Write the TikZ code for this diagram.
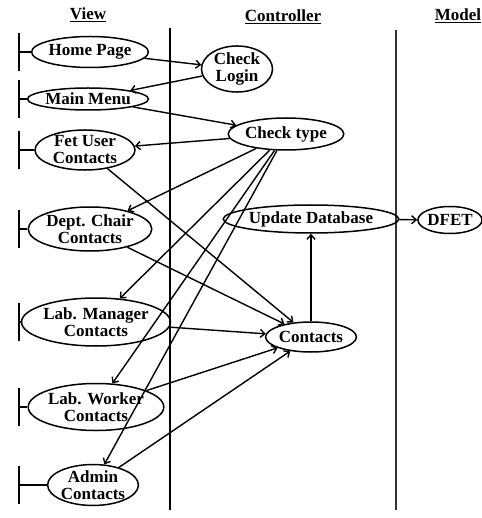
\documentclass[tikz,border=0pt]{standalone}
\usepackage{fontspec}
\setmainfont{Liberation Serif}
\usetikzlibrary{shapes.geometric,arrows.meta}
\begin{document}
\begin{tikzpicture}[x=1pt,y=-1pt,
  uc/.style={ellipse,draw,line width=1.5pt,inner sep=0pt,align=center,
    font=\fontsize{17}{17}\selectfont\bfseries},
  conn/.style={line width=1.4pt,-{Straight Barb[length=4.5pt,width=8pt]}},
  plain/.style={line width=1.4pt},
  bar/.style={line width=1.6pt},
  hdr/.style={font=\fontsize{17}{18}\selectfont\bfseries,inner sep=0pt}]
\useasboundingbox (0,0) rectangle (481,518);
% headers
\node[hdr] (hv) at (88,15) {\underline{View}};
\node[hdr] (hc) at (283,17) {\underline{Controller}};
\node[hdr] (hm) at (458,16) {\underline{Model}};
% swimlane lines
\coordinate (c1t) at (170,28); \coordinate (c1b) at (170,510);
\coordinate (c2t) at (396,30); \coordinate (c2b) at (396,510);
\draw[plain] (c1t) -- (c1b);
\draw[plain,draw=black!80] (c2t) -- (c2b);
% view nodes
\node[uc,minimum width=96pt,minimum height=31pt] (home) at (90,52) {Home Page};
\node[uc,minimum width=100pt,minimum height=22pt] (menu) at (88,99) {Main Menu};
\node[uc,minimum width=100pt,minimum height=38pt] (fet) at (85,150) {Fet User\\Contacts};
\node[uc,minimum width=110pt,minimum height=44pt] (dept) at (90,229) {Dept. Chair\\Contacts};
\node[uc,minimum width=122pt,minimum height=48pt] (labm) at (96,322) {Lab. Manager\\Contacts};
\node[uc,minimum width=108pt,minimum height=47pt] (labw) at (96,407) {Lab. Worker\\Contacts};
\node[uc,minimum width=88pt,minimum height=40pt] (admin) at (93,485) {Admin\\Contacts};
% boundary bars
\foreach \n/\y in {home/52,menu/99,fet/150,dept/229,labm/322,labw/407,admin/485}{
  \coordinate (\n-bt) at (19,\y-19);
  \coordinate (\n-bb) at (19,\y+19);
  \coordinate (\n-bm) at (19,\y);
  \draw[bar] (\n-bt) -- (\n-bb);
  \draw[plain] (\n-bm) -- (\n.west);
}
% controller nodes
\node[uc,minimum width=71pt,minimum height=41pt] (login) at (237,69) {Check\\Login};
\node[uc,minimum width=100pt,minimum height=32pt] (type) at (286,134) {Check type};
\node[uc,minimum width=132pt,minimum height=28pt] (upd) at (311,219) {Update Database};
\node[uc,minimum width=80pt,minimum height=30pt] (cont) at (311,337) {Contacts};
% model node
\node[uc,minimum width=61pt,minimum height=27pt] (dfet) at (450,220) {DFET};
% connectors
\draw[conn] (home) -- (login);
\draw[conn] (login) -- (menu);
\draw[conn] (menu) -- (type);
\draw[conn] (type) -- (fet);
\draw[conn] (type) -- (dept);
\draw[conn] (type) -- (labm);
\draw[conn] (type) -- (labw);
\draw[conn] (type) -- (admin);
\draw[conn] (fet) -- (cont);
\draw[conn] (dept) -- (cont);
\draw[conn] (labm) -- (cont);
\draw[conn] (labw) -- (cont);
\draw[conn] (admin) -- (cont);
\draw[conn] (cont) -- (upd);
\draw[conn] (upd) -- (dfet);
\end{tikzpicture}
\end{document}
